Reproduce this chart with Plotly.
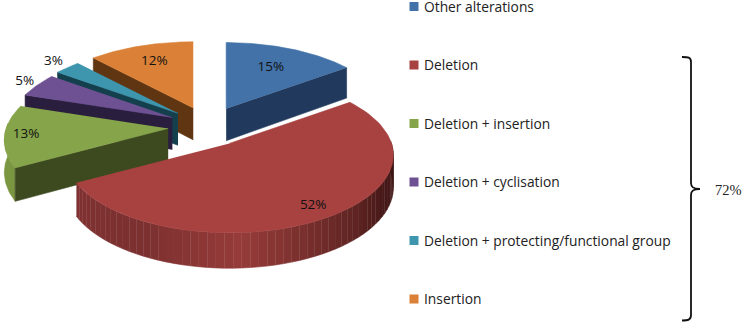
import numpy as np
import plotly.graph_objects as go

categories = ["Other alterations", "Deletion", "Deletion + insertion", "Deletion + cyclisation",
              "Deletion + protecting/functional group", "Insertion"]
values = [15, 52, 13, 5, 3, 12]
top_colors = ["#4272A8", "#A84240", "#86A44A", "#6E5192", "#3D96AE", "#DA8137"]
cut_colors = ["#21395C", "#7F3131", "#3D4A20", "#2A1E3E", "#143F4D", "#5F3512"]
legend_colors = top_colors
label_radius = [0.66, 0.86, 0.87, 1.1, 1.14, 0.72]

# projection of the tilted disc into the page
CX, CY, RX, RY, K = 208, 126.5, 162, 76, 0.15
EX, EY, DEPTH = 40, 20, 32


def proj(theta, r=1.0):
    u, v = r * np.sin(theta), r * np.cos(theta)
    p = 1 / (1 + K * v)
    return RX * u * p, -RY * v * p, p


def depth_at(theta):
    return DEPTH * (1 + 0.6 * (proj(theta)[2] - 1))


fig = go.Figure()


def poly(xs, ys, color):
    fig.add_trace(go.Scatter(x=list(xs), y=list(ys), mode="lines", fill="toself", fillcolor=color,
                             line=dict(color=color, width=0.6), hoverinfo="skip", showlegend=False))


total = sum(values)
edges = np.deg2rad(np.cumsum([0] + values) / total * 360)
red_stops = [(0.0, (128, 50, 50)), (0.22, (124, 48, 48)), (0.42, (150, 60, 58)), (0.6, (112, 44, 42)),
             (0.8, (72, 26, 25)), (1.0, (60, 22, 20))]

for i in [0, 5, 4, 3, 2, 1]:
    a0, a1 = edges[i], edges[i + 1]
    mid = (a0 + a1) / 2
    ox, oy = CX + EX * np.sin(mid), CY - EY * np.cos(mid)
    ang = np.linspace(a0, a1, 80)
    rx, ry, _ = proj(ang)
    # outer wall
    if i == 1:
        w = np.linspace(a1, np.deg2rad(88), 60)
        for j in range(len(w) - 1):
            seg = np.linspace(w[j], w[j + 1], 4)
            sx, sy, _ = proj(seg)
            d = depth_at(seg)
            t = j / (len(w) - 2)
            c = [np.interp(t, [s[0] for s in red_stops], [s[1][n] for s in red_stops]) for n in range(3)]
            col = "rgb(%d,%d,%d)" % tuple(c)
            poly(np.r_[ox + sx, (ox + sx)[::-1]], np.r_[oy + sy, (oy + sy + d)[::-1]], col)
    if i == 2:
        seg = np.linspace(a0, np.deg2rad(274), 30)
        sx, sy, _ = proj(seg)
        d = depth_at(seg)
        poly(np.r_[ox + sx, (ox + sx)[::-1]], np.r_[oy + sy, (oy + sy + d)[::-1]], "#7A9640")
    # cut wall
    cut = a1 if i == 0 else a0
    if i != 1:
        cx, cy, _ = proj(cut)
        d = depth_at(cut)
        poly([ox, ox + cx, ox + cx, ox], [oy, oy + cy, oy + cy + d, oy + DEPTH], cut_colors[i])
    # top face
    poly(np.r_[ox, ox + rx], np.r_[oy, oy + ry], top_colors[i])

# slice labels
for i, cat in enumerate(categories):
    a0, a1 = edges[i], edges[i + 1]
    mid = (a0 + a1) / 2
    ox, oy = CX + EX * np.sin(mid), CY - EY * np.cos(mid)
    lx, ly, _ = proj(mid, label_radius[i])
    fig.add_trace(go.Scatter(x=[ox + lx], y=[oy + ly], mode="text", text=[f"{values[i]}%"],
                             textposition="middle center", hoverinfo="skip", showlegend=False,
                             textfont=dict(family="Open Sans", size=13.5, color="#111111")))

# legend column
LEG_X, LEG_Y0, LEG_STEP = 414, 6.5, 58.5
for i, cat in enumerate(categories):
    y = LEG_Y0 + i * LEG_STEP
    fig.add_trace(go.Scatter(x=[LEG_X], y=[y], mode="markers", hoverinfo="skip", showlegend=False,
                             marker=dict(symbol="square", size=9, color=legend_colors[i])))
    fig.add_annotation(x=LEG_X + 8, y=y - 0.5, text=cat, showarrow=False, xanchor="left", yanchor="middle",
                       xref="x", yref="y", font=dict(family="Open Sans", size=13.8, color="#222222"))

fig.add_annotation(x=728.5, y=190, text="72%", showarrow=False, xanchor="center", yanchor="middle",
                   font=dict(family="Liberation Serif", size=14.5, color="#222222"))

fig.add_shape(type="path", xref="x", yref="y", line=dict(color="#111111", width=1.8),
              path="M 682 57 C 688 57 691 57 691 62 L 691 183 C 691 187 693 189 700 189 "
                   "C 693 189 691 191 691 195 L 691 315 C 691 320 688 320.5 682 320.5")

fig.update_xaxes(range=[0, 743], visible=False, fixedrange=True)
fig.update_yaxes(range=[322, 0], visible=False, fixedrange=True)
fig.update_layout(width=743, height=322, margin=dict(l=0, r=0, t=0, b=0), paper_bgcolor="white",
                  plot_bgcolor="white", showlegend=False)
fig.write_html("out.html", config={"displayModeBar": False},
               post_script="document.body.style.margin='0';document.body.style.overflow='hidden';")
